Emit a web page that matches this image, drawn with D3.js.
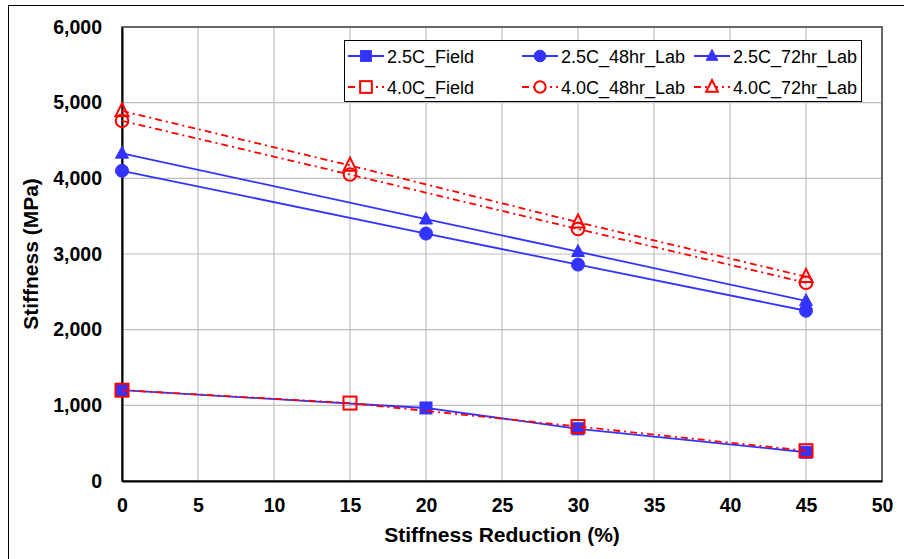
<!DOCTYPE html>
<html>
<head>
<meta charset="utf-8">
<script src="https://cdn.jsdelivr.net/npm/d3@7"></script>
<style>
  html, body { margin: 0; padding: 0; background: #fff; }
  svg { display: block; font-family: Arial, "Liberation Sans", sans-serif; }
</style>
</head>
<body>
<svg id="chart" width="904" height="559"></svg>
<script>
// Stiffness reduction (%) for field and lab conditioning
const xField = [0, 20, 30, 45];
const xField40 = [0, 15, 30, 45];
const xLab25 = [0, 20, 30, 45];
const xLab40 = [0, 15, 30, 45];

// Stiffness (MPa)
const field25 = [1200, 965, 690, 380];
const lab48_25 = [4100, 3270, 2860, 2250];
const lab72_25 = [4330, 3460, 3030, 2380];
const field40 = [1200, 1030, 720, 400];
const lab48_40 = [4760, 4050, 3330, 2620];
const lab72_40 = [4890, 4170, 3420, 2700];

const xTicks = [0, 5, 10, 15, 20, 25, 30, 35, 40, 45, 50];
const yTicks = [0, 1000, 2000, 3000, 4000, 5000, 6000];

const seriesNames = ["2.5C_Field", "2.5C_48hr_Lab", "2.5C_72hr_Lab",
                     "4.0C_Field", "4.0C_48hr_Lab", "4.0C_72hr_Lab"];

const BLUE = "#3333ff", RED = "#ff0000";
const series = [
  { name: seriesNames[0], xs: xField,   ys: field25,  color: BLUE, marker: "square",   filled: true,  dash: null },
  { name: seriesNames[1], xs: xLab25,   ys: lab48_25, color: BLUE, marker: "circle",   filled: true,  dash: null },
  { name: seriesNames[2], xs: xLab25,   ys: lab72_25, color: BLUE, marker: "triangle", filled: true,  dash: null },
  { name: seriesNames[3], xs: xField40, ys: field40,  color: RED,  marker: "square",   filled: false, dash: "7,4,2,4" },
  { name: seriesNames[4], xs: xLab40,   ys: lab48_40, color: RED,  marker: "circle",   filled: false, dash: "7,4,2,4" },
  { name: seriesNames[5], xs: xLab40,   ys: lab72_40, color: RED,  marker: "triangle", filled: false, dash: "7,4,2,4" }
];

const svg = d3.select("#chart");
const plot = { left: 122, right: 882, top: 27, bottom: 481 };

// chart frame
svg.append("rect").attr("x", 8.5).attr("y", 5.5).attr("width", 920).attr("height", 600)
  .attr("fill", "#fff").attr("stroke", "#000").attr("stroke-width", 1);

const x = d3.scaleLinear().domain([0, 50]).range([plot.left, plot.right]);
const y = d3.scaleLinear().domain([0, 6000]).range([plot.bottom, plot.top]);

// gridlines
const grid = svg.append("g");
grid.selectAll("line.v").data(xTicks.slice(1)).join("line")
  .attr("x1", d => x(d)).attr("x2", d => x(d))
  .attr("y1", plot.top).attr("y2", plot.bottom)
  .attr("stroke", "#bfbfbf").attr("stroke-width", 1.2);
grid.selectAll("line.h").data(yTicks.slice(1)).join("line")
  .attr("x1", plot.left).attr("x2", plot.right)
  .attr("y1", d => y(d)).attr("y2", d => y(d))
  .attr("stroke", "#bfbfbf").attr("stroke-width", 1.2);

// plot area border
svg.append("rect").attr("x", plot.left).attr("y", plot.top)
  .attr("width", plot.right - plot.left).attr("height", plot.bottom - plot.top)
  .attr("fill", "none").attr("stroke", "#404040").attr("stroke-width", 1.5);

// axes
const xAxis = d3.axisBottom(x).tickValues(xTicks).tickSize(0).tickPadding(17).tickFormat(d3.format("d"));
const yAxis = d3.axisLeft(y).tickValues(yTicks).tickSize(0).tickPadding(20).tickFormat(d3.format(","));

const gx = svg.append("g").attr("transform", `translate(0,${plot.bottom})`).call(xAxis);
const gy = svg.append("g").attr("transform", `translate(${plot.left},0)`).call(yAxis);
[gx, gy].forEach(g => {
  g.select(".domain").attr("stroke", "#000").attr("stroke-width", 2);
  g.selectAll("text").attr("font-size", 19.5).attr("font-weight", "bold")
    .attr("fill", "#000").attr("font-family", "Arial, 'Liberation Sans', sans-serif");
});

// axis titles
svg.append("text").attr("x", (plot.left + plot.right) / 2).attr("y", 542)
  .attr("text-anchor", "middle").attr("font-size", 21).attr("font-weight", "bold")
  .text("Stiffness Reduction (%)");
svg.append("text").attr("transform", `translate(38,${(plot.top + plot.bottom) / 2}) rotate(-90)`)
  .attr("text-anchor", "middle").attr("font-size", 21).attr("font-weight", "bold")
  .text("Stiffness (MPa)");

// marker drawing; open markers are hollow so overlapping points stay visible
function drawMarker(g, s, cx, cy, scale = 1, openFill = "none") {
  const fill = s.filled ? s.color : openFill;
  const sw = s.filled ? 1 : 2;
  if (s.marker === "square") {
    const a = (s.filled ? 12 : 13) * scale;
    g.append("rect").attr("x", cx - a / 2).attr("y", cy - a / 2).attr("width", a).attr("height", a)
      .attr("fill", fill).attr("stroke", s.color).attr("stroke-width", sw);
  } else if (s.marker === "circle") {
    g.append("circle").attr("cx", cx).attr("cy", cy).attr("r", (s.filled ? 6.5 : 6.3) * scale)
      .attr("fill", fill).attr("stroke", s.color).attr("stroke-width", sw);
  } else {
    const h = (s.filled ? 12 : 13) * scale;
    const w = 13 * scale;
    const pts = [[cx, cy - h * 0.6], [cx + w / 2, cy + h * 0.4], [cx - w / 2, cy + h * 0.4]];
    g.append("polygon").attr("points", pts.map(p => p.join(",")).join(" "))
      .attr("fill", fill).attr("stroke", s.color).attr("stroke-width", sw);
  }
}

// series lines and markers
const line = d3.line().x(d => x(d[0])).y(d => y(d[1]));
series.forEach(s => {
  const g = svg.append("g");
  const pts = s.xs.map((v, i) => [v, s.ys[i]]);
  g.append("path").attr("d", line(pts)).attr("fill", "none")
    .attr("stroke", s.color).attr("stroke-width", 1.8)
    .attr("stroke-dasharray", s.dash);
  pts.forEach(p => drawMarker(g, s, x(p[0]), y(p[1])));
});

// legend
const leg = svg.append("g");
leg.append("rect").attr("x", 344.5).attr("y", 40.5).attr("width", 517).attr("height", 61)
  .attr("fill", "#fff").attr("stroke", "#000").attr("stroke-width", 1);
const colX = [348, 522, 694];
const rowY = [56, 87];
series.forEach((s, i) => {
  const cx0 = colX[i % 3], cy0 = rowY[Math.floor(i / 3)];
  const g = leg.append("g");
  g.append("line").attr("x1", cx0).attr("x2", cx0 + 36).attr("y1", cy0).attr("y2", cy0)
    .attr("stroke", s.color).attr("stroke-width", 1.8).attr("stroke-dasharray", s.dash);
  drawMarker(g, s, cx0 + 18, cy0, 0.9, "#fff");
  g.append("text").attr("x", cx0 + 39).attr("y", cy0 + 6.5).attr("font-size", 18)
    .attr("fill", "#000").text(s.name);
});
</script>
</body>
</html>
